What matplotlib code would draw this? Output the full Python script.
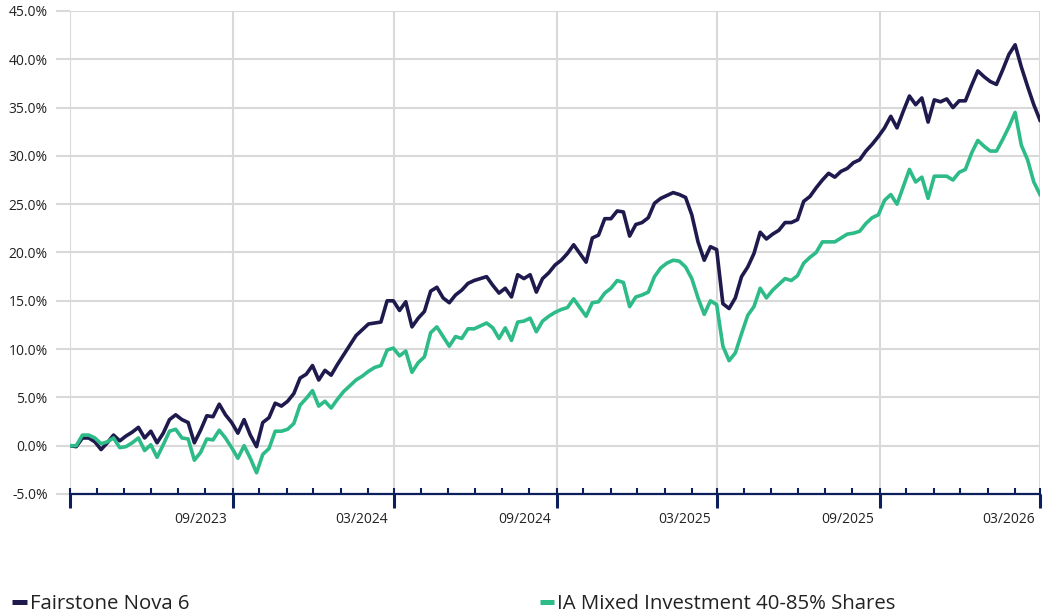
import numpy as np
import pandas as pd
import matplotlib
matplotlib.use("Agg")
import matplotlib.pyplot as plt
import matplotlib.dates as mdates
import matplotlib.transforms as mtransforms
from matplotlib.lines import Line2D

plt.rcParams['font.family'] = ['Open Sans', 'DejaVu Sans']

# weekly cumulative performance (%), Mar 2023 - Mar 2026
dates = pd.date_range('2023-03-01', '2026-03-01', periods=157)

fairstone = [
    0.0, -0.1, 0.8, 0.8, 0.4, -0.4, 0.3, 1.1, 0.5, 1.0,
    1.4, 1.9, 0.8, 1.5, 0.3, 1.3, 2.7, 3.2, 2.7, 2.4,
    0.3, 1.6, 3.1, 3.0, 4.3, 3.2, 2.4, 1.3, 2.7, 1.1,
    -0.1, 2.4, 2.9, 4.4, 4.1, 4.6, 5.4, 7.0, 7.4, 8.3,
    6.8, 7.8, 7.3, 8.4, 9.4, 10.4, 11.4, 12.0, 12.6, 12.7,
    12.8, 15.0, 15.0, 14.0, 14.9, 12.3, 13.2, 13.9, 16.0, 16.4,
    15.3, 14.8, 15.6, 16.1, 16.8, 17.1, 17.3, 17.5, 16.6, 15.8,
    16.3, 15.4, 17.7, 17.3, 17.7, 15.9, 17.3, 17.9, 18.7, 19.2,
    19.9, 20.8, 19.9, 19.0, 21.5, 21.8, 23.5, 23.5, 24.3, 24.2,
    21.7, 22.9, 23.1, 23.6, 25.1, 25.6, 25.9, 26.2, 26.0, 25.7,
    23.9, 21.1, 19.2, 20.6, 20.3, 14.7, 14.2, 15.3, 17.5, 18.5,
    19.9, 22.1, 21.4, 21.9, 22.3, 23.1, 23.1, 23.4, 25.3, 25.8,
    26.7, 27.5, 28.2, 27.8, 28.4, 28.7, 29.3, 29.6, 30.5, 31.2,
    32.0, 32.9, 34.1, 32.9, 34.6, 36.2, 35.3, 36.0, 33.5, 35.8,
    35.6, 35.9, 35.0, 35.7, 35.7, 37.3, 38.8, 38.2, 37.7, 37.4,
    38.9, 40.5, 41.5, 39.2, 37.2, 35.3, 33.7,
]

ia_mixed = [
    0.0, 0.0, 1.1, 1.1, 0.8, 0.2, 0.4, 0.8, -0.2, -0.1,
    0.3, 0.8, -0.5, 0.1, -1.2, 0.1, 1.5, 1.7, 0.8, 0.7,
    -1.5, -0.7, 0.7, 0.6, 1.6, 0.8, -0.2, -1.3, 0.0, -1.3,
    -2.8, -0.9, -0.3, 1.5, 1.5, 1.7, 2.3, 4.2, 4.9, 5.7,
    4.1, 4.6, 3.9, 4.8, 5.6, 6.2, 6.8, 7.2, 7.7, 8.1,
    8.3, 9.9, 10.1, 9.3, 9.8, 7.6, 8.6, 9.2, 11.7, 12.3,
    11.3, 10.3, 11.3, 11.1, 12.1, 12.1, 12.4, 12.7, 12.2, 11.1,
    12.2, 10.9, 12.8, 12.9, 13.2, 11.8, 12.9, 13.4, 13.8, 14.1,
    14.3, 15.2, 14.3, 13.4, 14.8, 14.9, 15.8, 16.3, 17.1, 16.9,
    14.4, 15.4, 15.6, 15.9, 17.5, 18.4, 18.9, 19.2, 19.1, 18.5,
    17.3, 15.3, 13.6, 15.0, 14.6, 10.3, 8.8, 9.6, 11.6, 13.5,
    14.4, 16.3, 15.3, 16.1, 16.7, 17.3, 17.1, 17.6, 18.9, 19.5,
    20.0, 21.1, 21.1, 21.1, 21.5, 21.9, 22.0, 22.2, 23.0, 23.6,
    23.9, 25.4, 26.0, 25.0, 26.8, 28.6, 27.3, 27.8, 25.6, 27.9,
    27.9, 27.9, 27.5, 28.3, 28.6, 30.3, 31.6, 31.0, 30.5, 30.5,
    31.7, 33.0, 34.5, 31.1, 29.6, 27.3, 26.0,
]

tick_months = ['2023-03', '2023-09', '2024-03', '2024-09', '2025-03', '2025-09', '2026-03']
tick_labels = ['', '09/2023', '03/2024', '09/2024', '03/2025', '09/2025', '03/2026']
series_names = ['Fairstone Nova 6', 'IA Mixed Investment 40-85% Shares']
colors = ['#1f1a4d', '#2dbb88']
axis_col = '#0c1f5c'
grid_col = '#d9d9d9'
text_col = '#222222'

W, H = 1053, 613
fig = plt.figure(figsize=(W / 100, H / 100), dpi=100)
ax = fig.add_axes([70 / W, 1 - 494 / H, 970 / W, 483 / H])

ax.plot(dates, fairstone, color=colors[0], lw=2.6, zorder=3, solid_joinstyle='round')
ax.plot(dates, ia_mixed, color=colors[1], lw=2.6, zorder=3, solid_joinstyle='round')

ax.set_ylim(-5, 45)
ax.set_yticks(np.arange(-5, 46, 5))
ax.yaxis.set_major_formatter(matplotlib.ticker.FuncFormatter(lambda v, p: f'{v:.1f}%'))
ax.set_xlim(pd.Timestamp('2023-03-01'), pd.Timestamp('2026-03-01'))

ax.set_xticks(pd.to_datetime(tick_months))
ax.set_xticklabels(tick_labels)
ax.xaxis.set_minor_locator(mdates.MonthLocator())
ax.xaxis.remove_overlapping_locs = False

ax.grid(True, which='major', color=grid_col, lw=1.5, zorder=0)
for s in ['top', 'right', 'left']:
    ax.spines[s].set_visible(False)
ax.spines['bottom'].set_color(axis_col)
ax.spines['bottom'].set_linewidth(1.6)
ax.spines['bottom'].set_zorder(4)

ax.tick_params(axis='y', length=10, width=1.5, color=grid_col, pad=6,
               labelsize=10, labelcolor=text_col)
ax.tick_params(axis='x', which='major', direction='out', length=10, width=2.2,
               color=axis_col, pad=3, labelsize=10, labelcolor=text_col)
ax.tick_params(axis='x', which='minor', direction='in', length=4.5, width=1.5,
               color=axis_col)

shift = mtransforms.ScaledTranslation(-4 / 72, 0, fig.dpi_scale_trans)
for lab in ax.get_xticklabels():
    lab.set_horizontalalignment('right')
    lab.set_transform(lab.get_transform() + shift)

# legend along the bottom edge
leg_x = [(12, 27, 30), (540, 554, 557)]
for (x0, x1, tx), name, c in zip(leg_x, series_names, colors):
    fig.add_artist(Line2D([x0 / W, x1 / W], [1 - 602 / H] * 2, transform=fig.transFigure,
                          color=c, lw=3.6, solid_capstyle='butt'))
    fig.text(tx / W, 1 - 609 / H, name, fontsize=14.7, color=text_col, va='baseline')

fig.savefig('out.png', dpi=100)
